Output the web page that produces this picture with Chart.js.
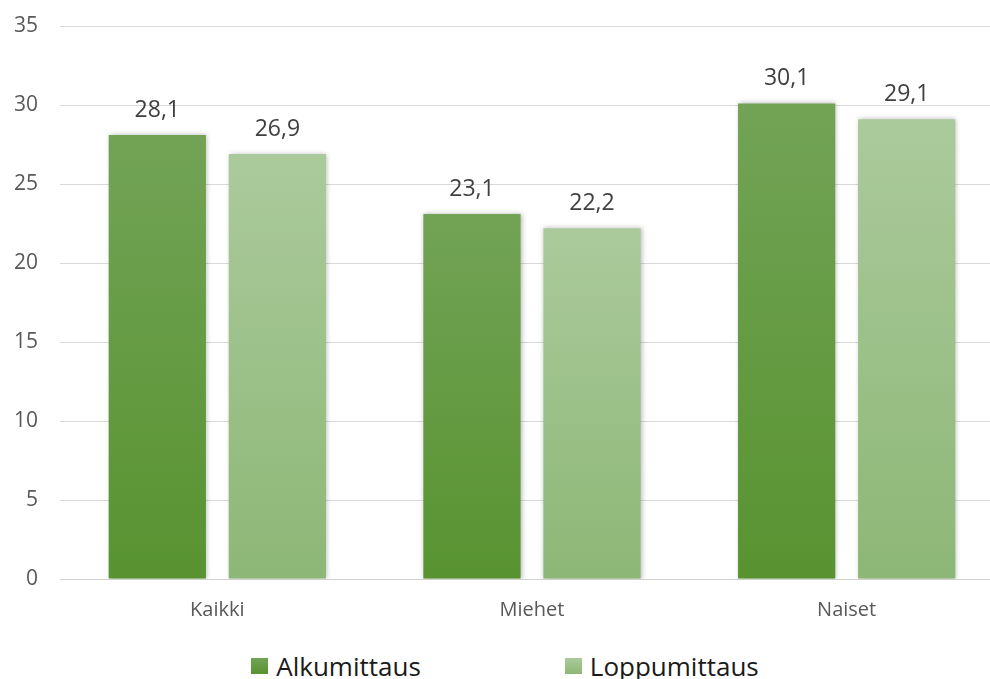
<!DOCTYPE html>
<html>
<head>
<meta charset="utf-8">
<script src="https://cdn.jsdelivr.net/npm/chart.js@4"></script>
<style>
  html, body { margin: 0; padding: 0; background: #fff; overflow: hidden; }
  #wrap { position: relative; width: 990px; height: 679px; overflow: hidden; }
  #box { position: absolute; left: 0; top: 0; width: 1004px; height: 640px; }
  #legend { position: absolute; left: 0; top: 648px; width: 990px; padding-left: 20px; box-sizing: border-box;
            display: flex; justify-content: center;
            font-family: 'Open Sans', sans-serif; font-size: 26px; line-height: 36px; color: #1a1a1a; }
  .item { display: flex; align-items: center; }
  .item + .item { margin-left: 144px; }
  .sw { width: 17px; height: 16px; margin-right: 8px; }
</style>
</head>
<body>
<div id="wrap">
  <div id="box"><canvas id="barChart" width="1004" height="640"></canvas></div>
  <div id="legend"></div>
</div>
<script>
const categories = ['Kaikki', 'Miehet', 'Naiset'];
const alku = [28.1, 23.1, 30.1];
const loppu = [26.9, 22.2, 29.1];
const seriesNames = ['Alkumittaus', 'Loppumittaus'];

// top / bottom colours of each series' gradient
const shades = [
  ['#72a356', '#589330'],
  ['#abca9c', '#8db776'],
];

function barFill(ctx, i) {
  const chart = ctx.chart;
  const y = chart.scales.y;
  if (!chart.chartArea || !y || ctx.raw == null) return shades[i][1];
  const top = y.getPixelForValue(ctx.raw);
  const bottom = y.getPixelForValue(0);
  const g = chart.ctx.createLinearGradient(0, top, 0, bottom);
  g.addColorStop(0, shades[i][0]);
  g.addColorStop(1, shades[i][1]);
  return g;
}

// soft shadow behind the bars
const shadow = {
  id: 'shadow',
  beforeDatasetsDraw(chart) {
    const c = chart.ctx;
    c.save();
    c.shadowColor = 'rgba(0,0,0,0.28)';
    c.shadowBlur = 5;
    c.shadowOffsetX = 1;
    c.shadowOffsetY = 0;
  },
  afterDatasetsDraw(chart) {
    chart.ctx.restore();
  },
};

// value above every bar, with a decimal comma
const valueLabels = {
  id: 'valueLabels',
  afterDatasetsDraw(chart) {
    const c = chart.ctx;
    c.save();
    c.font = '23px "Open Sans", sans-serif';
    c.fillStyle = '#404040';
    c.textAlign = 'center';
    c.textBaseline = 'bottom';
    chart.data.datasets.forEach((ds, di) => {
      chart.getDatasetMeta(di).data.forEach((bar, i) => {
        c.fillText(ds.data[i].toFixed(1).replace('.', ','), bar.x, bar.y - 13);
      });
    });
    c.restore();
  },
};

new Chart(document.getElementById('barChart'), {
  type: 'bar',
  data: {
    labels: categories,
    datasets: [
      {
        label: seriesNames[0],
        data: alku,
        backgroundColor: (ctx) => barFill(ctx, 0),
        categoryPercentage: 0.763,
        barPercentage: 0.81,
      },
      {
        label: seriesNames[1],
        data: loppu,
        backgroundColor: (ctx) => barFill(ctx, 1),
        categoryPercentage: 0.763,
        barPercentage: 0.81,
      },
    ],
  },
  options: {
    responsive: false,
    animation: false,
    layout: {
      padding: { top: 26, right: 0, bottom: 0, left: 0 },
    },
    scales: {
      x: {
        afterFit: (s) => { s.height = 61; },
        grid: { display: false, drawTicks: false },
        border: { color: '#d0d0d0', width: 1 },
        ticks: {
          padding: 19,
          color: '#595959',
          font: { family: 'Open Sans', size: 20 },
        },
      },
      y: {
        min: 0,
        max: 35,
        afterFit: (s) => {
          s.width = 60;
          s.paddingTop = 0;
          s.paddingBottom = 0;
        },
        grid: { color: '#d9d9d9', drawTicks: false },
        border: { display: false },
        ticks: {
          stepSize: 5,
          padding: 22,
          color: '#595959',
          font: { family: 'Open Sans', size: 21 },
        },
      },
    },
    plugins: {
      legend: { display: false },
      tooltip: { enabled: false },
    },
  },
  plugins: [shadow, valueLabels],
});

// legend row under the chart
const legend = document.getElementById('legend');
seriesNames.forEach((name, i) => {
  const item = document.createElement('div');
  item.className = 'item';
  const sw = document.createElement('div');
  sw.className = 'sw';
  sw.style.background = 'linear-gradient(' + shades[i][0] + ',' + shades[i][1] + ')';
  const txt = document.createElement('span');
  txt.textContent = name;
  item.appendChild(sw);
  item.appendChild(txt);
  legend.appendChild(item);
});
</script>
</body>
</html>
